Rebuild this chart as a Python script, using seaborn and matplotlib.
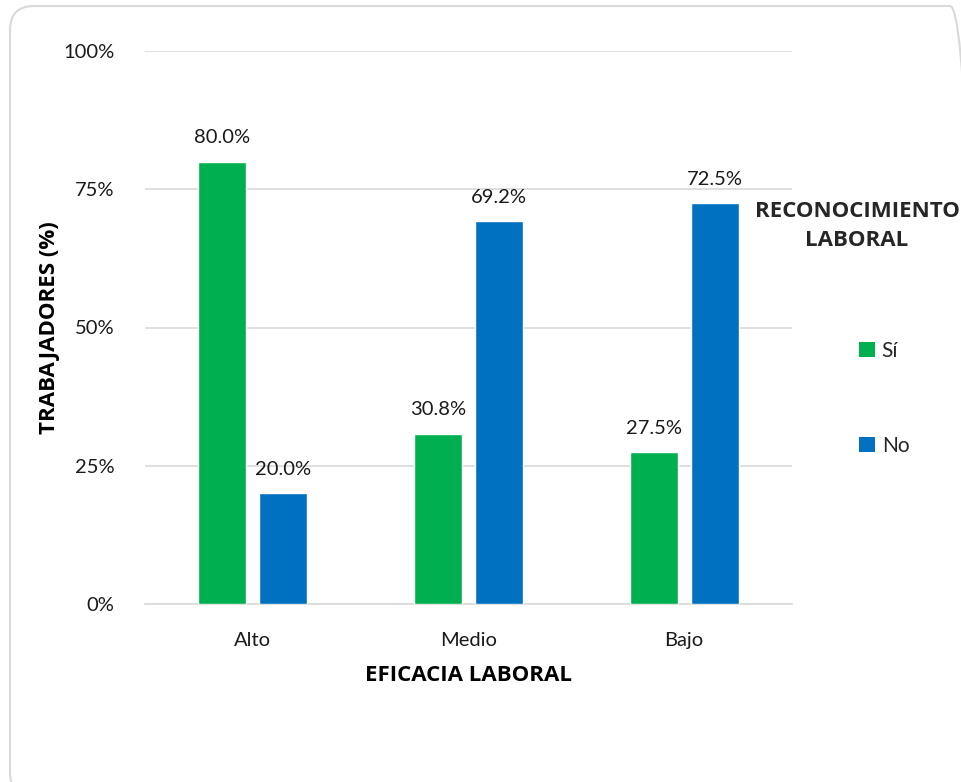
import matplotlib
matplotlib.use("Agg")
import matplotlib.pyplot as plt
import seaborn as sns
import pandas as pd
from matplotlib.patches import FancyBboxPatch, Patch
from matplotlib.transforms import IdentityTransform
from matplotlib import font_manager

# Data
categories = ["Alto", "Medio", "Bajo"]
series_names = ["Sí", "No"]
si_values = [80.0, 30.8, 27.5]
no_values = [20.0, 69.2, 72.5]
y_ticks = [0, 25, 50, 75, 100]
y_tick_labels = ["0%", "25%", "50%", "75%", "100%"]

colors = {"Sí": "#00B050", "No": "#0070C0"}

df = pd.DataFrame({
    "Eficacia": categories * 2,
    "Reconocimiento": [series_names[0]] * 3 + [series_names[1]] * 3,
    "Valor": si_values + no_values,
})

sns.set_theme(style="white")
plt.rcParams["font.family"] = ["Lato", "DejaVu Sans"]

# Heavy face for the titles
bold_font = font_manager.FontProperties(family=["Open Sans", "DejaVu Sans"],
                                        weight="bold", size=16)

W, H = 962, 782
fig = plt.figure(figsize=(W / 100, H / 100), dpi=100)

# Rounded outer frame (pixel coordinates, origin bottom-left)
frame = FancyBboxPatch((10, -14), 964, 790,
                       boxstyle="round,pad=0,rounding_size=24",
                       transform=IdentityTransform(), facecolor="none",
                       edgecolor="#D9D9D9", linewidth=1.5, zorder=-1)
fig.patches.append(frame)

ax = fig.add_axes([145 / W, 1 - 604 / H, 647 / W, 553 / H])
ax.set_facecolor("none")

sns.barplot(data=df, x="Eficacia", y="Valor", hue="Reconocimiento",
            order=categories, hue_order=series_names, palette=colors,
            width=0.566, gap=0.214, saturation=1, ax=ax, legend=False,
            zorder=3)

ax.set_xlim(-0.5, 2.5)
ax.set_ylim(0, 100)
ax.set_yticks(y_ticks)
ax.set_yticklabels(y_tick_labels)
ax.yaxis.grid(True, color="#D9D9D9", linewidth=1.2, zorder=0)
ax.set_axisbelow(True)
for side in ["top", "right", "left"]:
    ax.spines[side].set_visible(False)
ax.spines["bottom"].set_color("#D9D9D9")
ax.spines["bottom"].set_linewidth(1.2)
ax.tick_params(axis="both", length=0, labelsize=14.5, colors="#1a1a1a")
ax.tick_params(axis="y", pad=22)
ax.tick_params(axis="x", pad=20)

# Value labels
for container in ax.containers:
    ax.bar_label(container, labels=[f"{v:.1f}%" for v in container.datavalues],
                 padding=11, fontsize=14.5, color="#1a1a1a")

ax.set_xlabel("EFICACIA LABORAL", fontproperties=bold_font, color="black",
              labelpad=12)
ax.set_ylabel("TRABAJADORES (%)", fontproperties=bold_font, color="black",
              labelpad=2)

# Legend
handles = [Patch(facecolor=colors[s], edgecolor="none") for s in series_names]
fig.text(857 / W, 1 - 226 / H, "RECONOCIMIENTO\nLABORAL", ha="center",
         va="center", fontproperties=bold_font, linespacing=1.45)
leg = fig.legend(handles, series_names, loc="upper left",
                 bbox_to_anchor=(840 / W, 1 - 322 / H), frameon=False,
                 fontsize=15, labelspacing=3.6, handlelength=0.8,
                 handleheight=0.8, handletextpad=0.3)

fig.savefig("out.png", dpi=100)
